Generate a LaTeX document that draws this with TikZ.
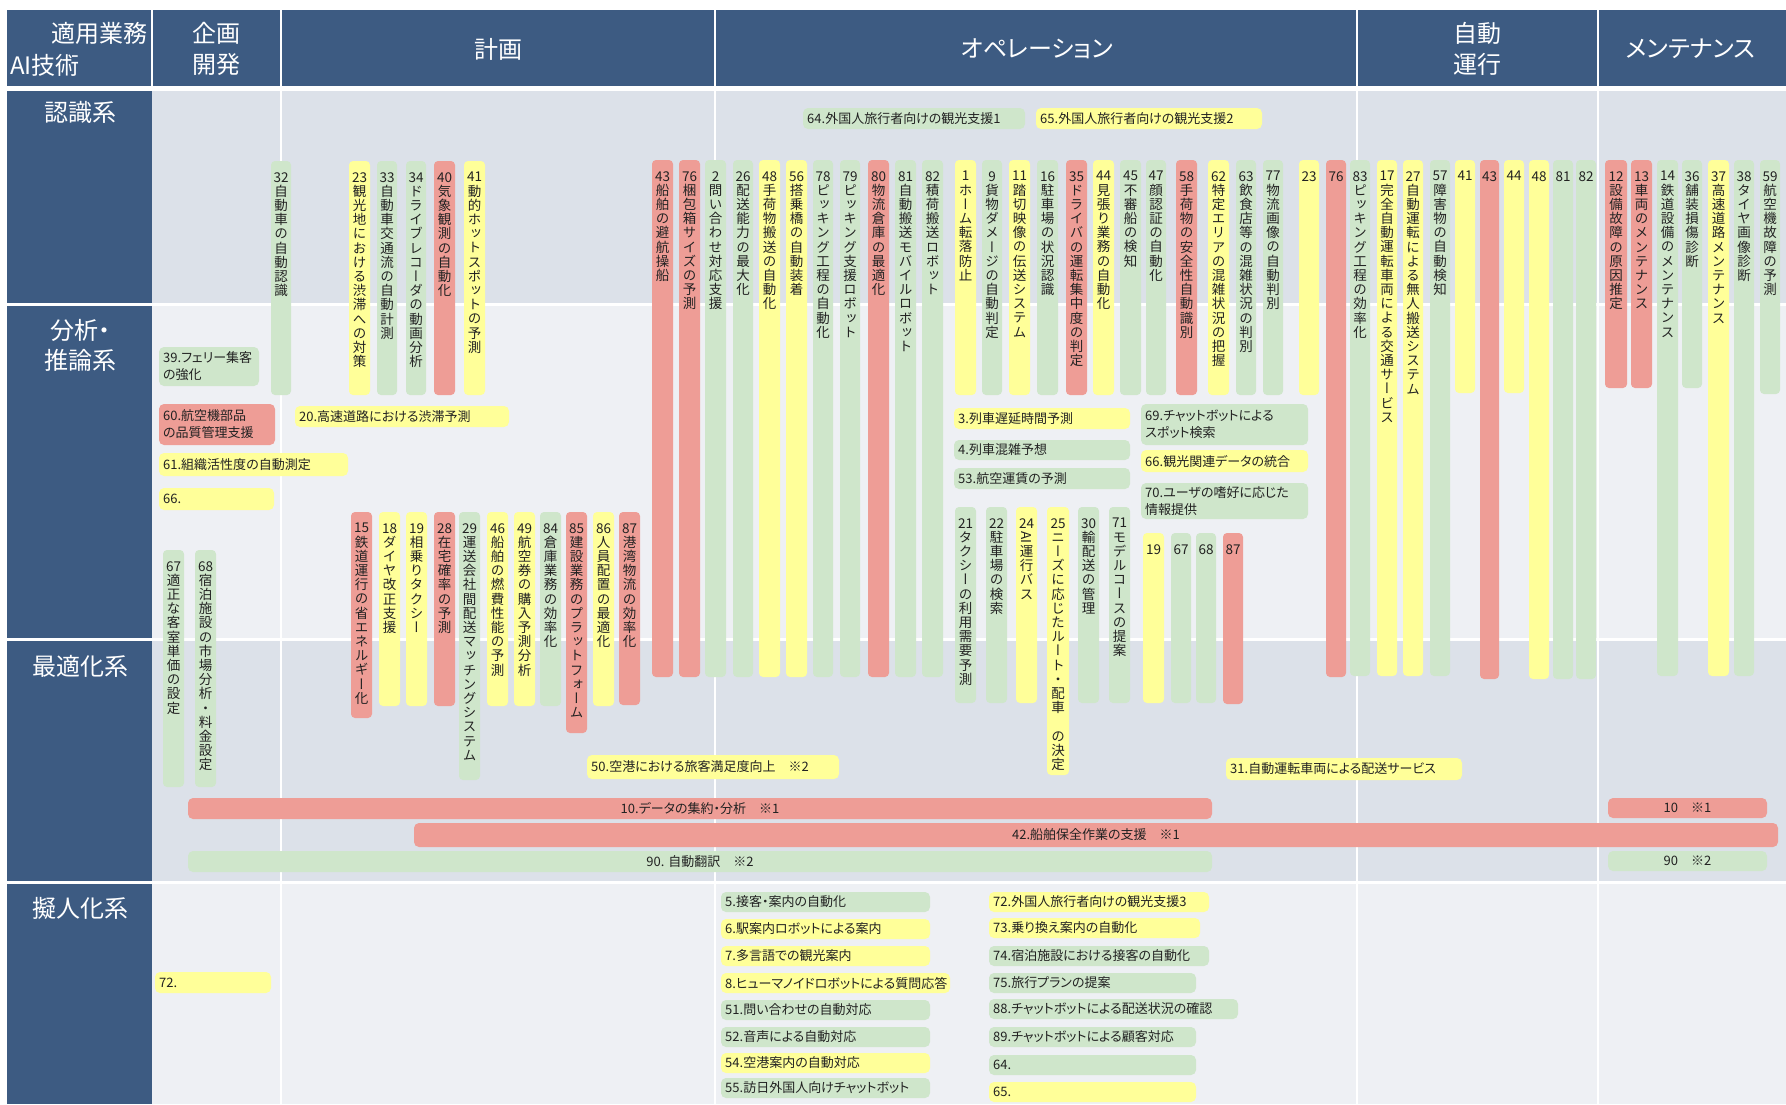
\documentclass[tikz,border=0pt]{standalone}
\usepackage{fontspec}
\setmainfont{Noto Sans CJK JP}
\newfontfamily\vjp[RawFeature=+vert]{Noto Sans CJK JP}
\newfontfamily\pjp[RawFeature=+palt]{Noto Sans CJK JP}

\definecolor{hdrblue}{HTML}{3D5B82}
\definecolor{rowdark}{HTML}{DCE1E9}
\definecolor{rowlight}{HTML}{EEF0F4}
\definecolor{cR}{HTML}{EE9D96}
\definecolor{cY}{HTML}{FFFF99}
\definecolor{cG}{HTML}{CFE6CB}
\definecolor{ink}{HTML}{222222}

% vertical label: number on top, then one character per line
\ExplSyntaxOn
\NewDocumentCommand\vstack{mm}
 {
  \vbox
   {
    \baselineskip=14.2pt
    \lineskiplimit=-100pt
    \hbox to 21pt {\hss #1 \hss}
    \tl_map_inline:nn {#2} { \hbox to 21pt { \hss \vjp ##1 \hss } }
   }
 }
\ExplSyntaxOff

\tikzset{
  vbar/.style={draw=none, rounded corners=4pt, inner sep=0pt, outer sep=0pt},
  hbar/.style={draw=none, rounded corners=5pt, inner sep=0pt, outer sep=0pt},
  vlab/.style={inner sep=0pt, text=ink, font=\fontsize{13.5}{14.2}\selectfont},
  hlab/.style={inner sep=0pt, text=ink, align=left, font=\pjp\fontsize{13}{17}\selectfont},
  hdr/.style={inner sep=0pt, text=white, align=center, font=\pjp\fontsize{24}{31}\selectfont},
  rowlab/.style={inner sep=0pt, text=white, align=center, font=\pjp\fontsize{24}{30}\selectfont},
}

% #1 name, #2 colour, #3 left x, #4 width, #5 top y, #6 bottom y, #7 number, #8 text
\newcommand\vb[8]{%
  \pgfmathsetmacro\barh{#6-#5}%
  \node[vbar, fill=#2, minimum width=#4pt, minimum height=\barh pt, anchor=north west] (#1) at (#3,#5) {};
  \node[vlab, anchor=north] (#1t) at ([yshift=-11pt]#1.north) {\vstack{#7}{#8}};
}
% #1 name, #2 colour, #3 x, #4 y, #5 width, #6 height, #7 text (left aligned)
\newcommand\hb[7]{%
  \node[hbar, fill=#2, minimum width=#5pt, minimum height=#6pt, anchor=north west] (#1) at (#3,#4) {};
  \node[hlab, anchor=west] (#1t) at ([xshift=4pt]#1.west) {#7};
}
% same, text centred
\newcommand\hbc[7]{%
  \node[hbar, fill=#2, minimum width=#5pt, minimum height=#6pt, anchor=north west] (#1) at (#3,#4) {};
  \node[hlab, anchor=center] (#1t) at (#1.center) {#7};
}

\begin{document}
\begin{tikzpicture}[x=1pt,y=-1pt]
\useasboundingbox[fill=white] (0,0) rectangle (1786,1104);

% header band and label column
\fill[hdrblue] (7,10) rectangle (1786,86);
\fill[hdrblue] (7,91) rectangle (152,1104);
% row backgrounds
\fill[rowdark]  (152,91)  rectangle (1786,304);
\fill[rowlight] (152,304) rectangle (1786,639);
\fill[rowdark]  (152,639) rectangle (1786,882);
\fill[rowlight] (152,882) rectangle (1786,1104);
% grid lines
\foreach \yy in {304.5,639,882.5} \draw[white, line width=3pt] (7,\yy) -- (1786,\yy);
\draw[white, line width=2pt] (152,10) -- (152,86);
\foreach \xx in {281,715,1357,1598} \draw[white, line width=2pt] (\xx,10) -- (\xx,1104);

% header texts
\node[hdr, anchor=east] (h1) at (148,33) {適用業務};
\node[hdr, anchor=west] (h2) at (10,65) {AI技術};
\node[hdr] (h3) at (216,49) {企画\\開発};
\node[hdr] (h4) at (498,49) {計画};
\node[hdr] (h5) at (1037,49) {オペレーション};
\node[hdr] (h6) at (1477,49) {自動\\運行};
\node[hdr] (h7) at (1691,49) {メンテナンス};

% row labels
\node[rowlab] (r1) at (80,112) {認識系};
\node[rowlab] (r2) at (80,345) {分析・\\推論系};
\node[rowlab] (r3) at (80,666) {最適化系};
\node[rowlab] (r4) at (80,908) {擬人化系};

% ---- vertical bars, upper group
\vb{k32}{cG}{271}{20}{161}{395}{32}{自動車の自動認識}
\vb{k23}{cY}{349}{21}{161}{395}{23}{観光地における渋滞への対策}
\vb{k33}{cG}{377}{20}{161}{395}{33}{自動車交通流の自動計測}
\vb{k34}{cG}{406}{20}{161}{395}{34}{ドライブレコーダの動画分析}
\vb{k40}{cR}{434}{21}{161}{395}{40}{気象観測の自動化}
\vb{k41}{cY}{464}{21}{161}{395}{41}{動的ホットスポットの予測}

\vb{o43}{cR}{652}{21}{160}{677}{43}{船舶の避航操船}
\vb{o76}{cR}{679}{21}{160}{677}{76}{梱包箱サイズの予測}
\vb{o02}{cG}{705}{21}{160}{677}{2}{問い合わせ対応支援}
\vb{o26}{cG}{733}{20}{160}{677}{26}{配送能力の最大化}
\vb{o48}{cY}{759}{21}{160}{677}{48}{手荷物搬送の自動化}
\vb{o56}{cY}{786}{21}{160}{677}{56}{搭乗橋の自動装着}
\vb{o78}{cG}{813}{20}{160}{677}{78}{ピッキング工程の自動化}
\vb{o79}{cG}{840}{20}{160}{677}{79}{ピッキング支援ロボット}
\vb{o80}{cR}{868}{21}{160}{677}{80}{物流倉庫の最適化}
\vb{o81}{cG}{895}{21}{160}{677}{81}{自動搬送モバイルロボット}
\vb{o82}{cG}{922}{21}{160}{677}{82}{積荷搬送ロボット}
\vb{o01}{cY}{955}{21}{160}{395}{1}{ホーム転落防止}
\vb{o09}{cG}{982}{20}{160}{395}{9}{貨物ダメージの自動判定}
\vb{o11}{cY}{1009}{21}{160}{395}{11}{踏切映像の伝送システム}
\vb{o16}{cG}{1037}{21}{160}{395}{16}{駐車場の状況認識}
\vb{o35}{cR}{1066}{21}{160}{395}{35}{ドライバの運転集中度の判定}
\vb{o44}{cY}{1093}{21}{160}{395}{44}{見張り業務の自動化}
\vb{o45}{cG}{1120}{21}{160}{395}{45}{不審船の検知}
\vb{o47}{cG}{1146}{20}{160}{395}{47}{顔認証の自動化}
\vb{o58}{cR}{1176}{21}{160}{395}{58}{手荷物の安全性自動識別}
\vb{o62}{cY}{1208}{21}{160}{395}{62}{特定エリアの混雑状況の把握}
\vb{o63}{cG}{1236}{20}{160}{395}{63}{飲食店等の混雑状況の判別}
\vb{o77}{cG}{1263}{20}{160}{395}{77}{物流画像の自動判別}
\vb{o23}{cY}{1299}{20}{160}{395}{23}{}
\vb{o76b}{cR}{1326}{20}{160}{677}{76}{}

\vb{a83}{cG}{1350}{20}{160}{676}{83}{ピッキング工程の効率化}
\vb{a17}{cY}{1377}{20}{160}{676}{17}{完全自動運転車両による交通サービス}
\vb{a27}{cY}{1403}{20}{160}{676}{27}{自動運転による無人搬送システム}
\vb{a57}{cG}{1430}{20}{160}{676}{57}{障害物の自動検知}
\vb{a41}{cY}{1455}{20}{160}{393}{41}{}
\vb{a43}{cR}{1480}{19}{160}{679}{43}{}
\vb{a44}{cY}{1504}{20}{160}{393}{44}{}
\vb{a48}{cY}{1529}{20}{160}{679}{48}{}
\vb{a81}{cG}{1553}{20}{160}{679}{81}{}
\vb{a82}{cG}{1576}{20}{160}{679}{82}{}

\vb{m12}{cR}{1605}{22}{160}{388}{12}{設備故障の原因推定}
\vb{m13}{cR}{1631}{21}{160}{388}{13}{車両のメンテナンス}
\vb{m14}{cG}{1657}{21}{160}{676}{14}{鉄道設備のメンテナンス}
\vb{m36}{cG}{1682}{20}{160}{388}{36}{舗装損傷診断}
\vb{m37}{cY}{1708}{21}{160}{676}{37}{高速道路メンテナンス}
\vb{m38}{cG}{1734}{20}{160}{676}{38}{タイヤ画像診断}
\vb{m59}{cG}{1760}{20}{160}{394}{59}{航空機故障の予測}

% ---- vertical bars, lower group
\vb{e67}{cG}{163}{21}{550}{787}{67}{適正な客室単価の設定}
\vb{e68}{cG}{195}{21}{550}{787}{68}{宿泊施設の市場分析・料金設定}

\vb{p15}{cR}{351}{21}{512}{718}{15}{鉄道運行の省エネルギー化}
\vb{p18}{cY}{379}{21}{512}{706}{18}{ダイヤ改正支援}
\vb{p19}{cY}{406}{21}{512}{706}{19}{相乗りタクシー}
\vb{p28}{cR}{434}{21}{512}{706}{28}{在宅確率の予測}
\vb{p29}{cG}{459}{21}{512}{780}{29}{運送会社間配送マッチングシステム}
\vb{p46}{cY}{487}{21}{512}{706}{46}{船舶の燃費性能の予測}
\vb{p49}{cY}{514}{21}{512}{706}{49}{航空券の購入予測分析}
\vb{p84}{cG}{540}{21}{512}{706}{84}{倉庫業務の効率化}
\vb{p85}{cR}{566}{21}{512}{733}{85}{建設業務のプラットフォーム}
\vb{p86}{cY}{593}{21}{512}{706}{86}{人員配置の最適化}
\vb{p87}{cR}{619}{21}{512}{705}{87}{港湾物流の効率化}

\vb{q21}{cG}{955}{21}{507}{703}{21}{タクシーの利用需要予測}
\vb{q22}{cG}{986}{21}{507}{703}{22}{駐車場の検索}
\vb{q24}{cY}{1016}{21}{507}{703}{24}{{\rotatebox[origin=c]{-90}{AI}}運行バス}
\vb{q25}{cY}{1047}{22}{507}{775}{25}{ニーズに応じたルート・配車{~}の決定}
\vb{q30}{cG}{1078}{21}{507}{703}{30}{輸配送の管理}
\vb{q71}{cG}{1109}{21}{507}{703}{71}{モデルコースの提案}
\vb{q19}{cY}{1143}{21}{533}{703}{19}{}
\vb{q67}{cG}{1171}{20}{533}{703}{67}{}
\vb{q68}{cG}{1196}{20}{533}{703}{68}{}
\vb{q87}{cR}{1223}{20}{533}{704}{87}{}

% ---- horizontal boxes
\hb{t64}{cG}{803}{108}{222}{21}{64.外国人旅行者向けの観光支援1}
\hb{t65}{cY}{1036}{108}{226}{21}{65.外国人旅行者向けの観光支援2}

\hb{s39}{cG}{159}{347}{100}{39}{39.フェリー集客\\の強化}
\hb{s60}{cR}{159}{404}{116}{41}{60.航空機部品\\の品質管理支援}
\hb{s20}{cY}{295}{406}{214}{21}{20.高速道路における渋滞予測}
\hb{s61}{cY}{159}{453}{189}{23}{61.組織活性度の自動測定}
\hb{s66}{cY}{159}{488}{115}{22}{66.}
\hb{s03}{cY}{954}{408}{176}{21}{3.列車遅延時間予測}
\hb{s04}{cG}{954}{440}{176}{20}{4.列車混雑予想}
\hb{s53}{cG}{954}{468}{176}{21}{53.航空運賃の予測}
\hb{s69}{cG}{1141}{404}{167}{41}{69.チャットボットによる\\スポット検索}
\hb{s66b}{cY}{1141}{450}{167}{22}{66.観光関連データの統合}
\hb{s70}{cG}{1141}{483}{167}{36}{70.ユーザの嗜好に応じた\\情報提供}

\hb{z50}{cY}{587}{755}{252}{24}{50.空港における旅客満足度向上\quad ※2}
\hb{z31}{cY}{1226}{758}{236}{22}{31.自動運転車両による配送サービス}

\hbc{l10}{cR}{188}{798}{1024}{21}{10.データの集約・分析\quad ※1}
\hbc{l42}{cR}{414}{823}{1364}{24}{42.船舶保全作業の支援\quad ※1}
\hbc{l90}{cG}{188}{851}{1024}{21}{90. 自動翻訳\quad ※2}
\hbc{l10b}{cR}{1608}{798}{159}{20}{10\quad ※1}
\hbc{l90b}{cG}{1608}{851}{159}{20}{90\quad ※2}

% ---- persona row
\hb{u72}{cY}{155}{972}{116}{21}{72.}
\hb{u05}{cG}{721}{892}{209}{20}{5.接客・案内の自動化}
\hb{u06}{cY}{721}{919}{209}{20}{6.駅案内ロボットによる案内}
\hb{u07}{cY}{721}{946}{209}{20}{7.多言語での観光案内}
\hb{u08}{cY}{721}{973}{229}{20}{8.ヒューマノイドロボットによる質問応答}
\hb{u51}{cG}{721}{1000}{209}{20}{51.問い合わせの自動対応}
\hb{u52}{cG}{721}{1027}{209}{20}{52.音声による自動対応}
\hb{u54}{cY}{721}{1053}{209}{20}{54.空港案内の自動対応}
\hb{u55}{cG}{721}{1078}{209}{20}{55.訪日外国人向けチャットボット}

\hb{v72}{cY}{989}{892}{220}{20}{72.外国人旅行者向けの観光支援3}
\hb{v73}{cY}{989}{918}{211}{20}{73.乗り換え案内の自動化}
\hb{v74}{cG}{989}{946}{220}{20}{74.宿泊施設における接客の自動化}
\hb{v75}{cG}{989}{973}{207}{20}{75.旅行プランの提案}
\hb{v88}{cG}{989}{999}{249}{20}{88.チャットボットによる配送状況の確認}
\hb{v89}{cG}{989}{1027}{207}{20}{89.チャットボットによる顧客対応}
\hb{v64}{cG}{989}{1055}{207}{20}{64.}
\hb{v65}{cY}{989}{1082}{207}{20}{65.}
\end{tikzpicture}
\end{document}
